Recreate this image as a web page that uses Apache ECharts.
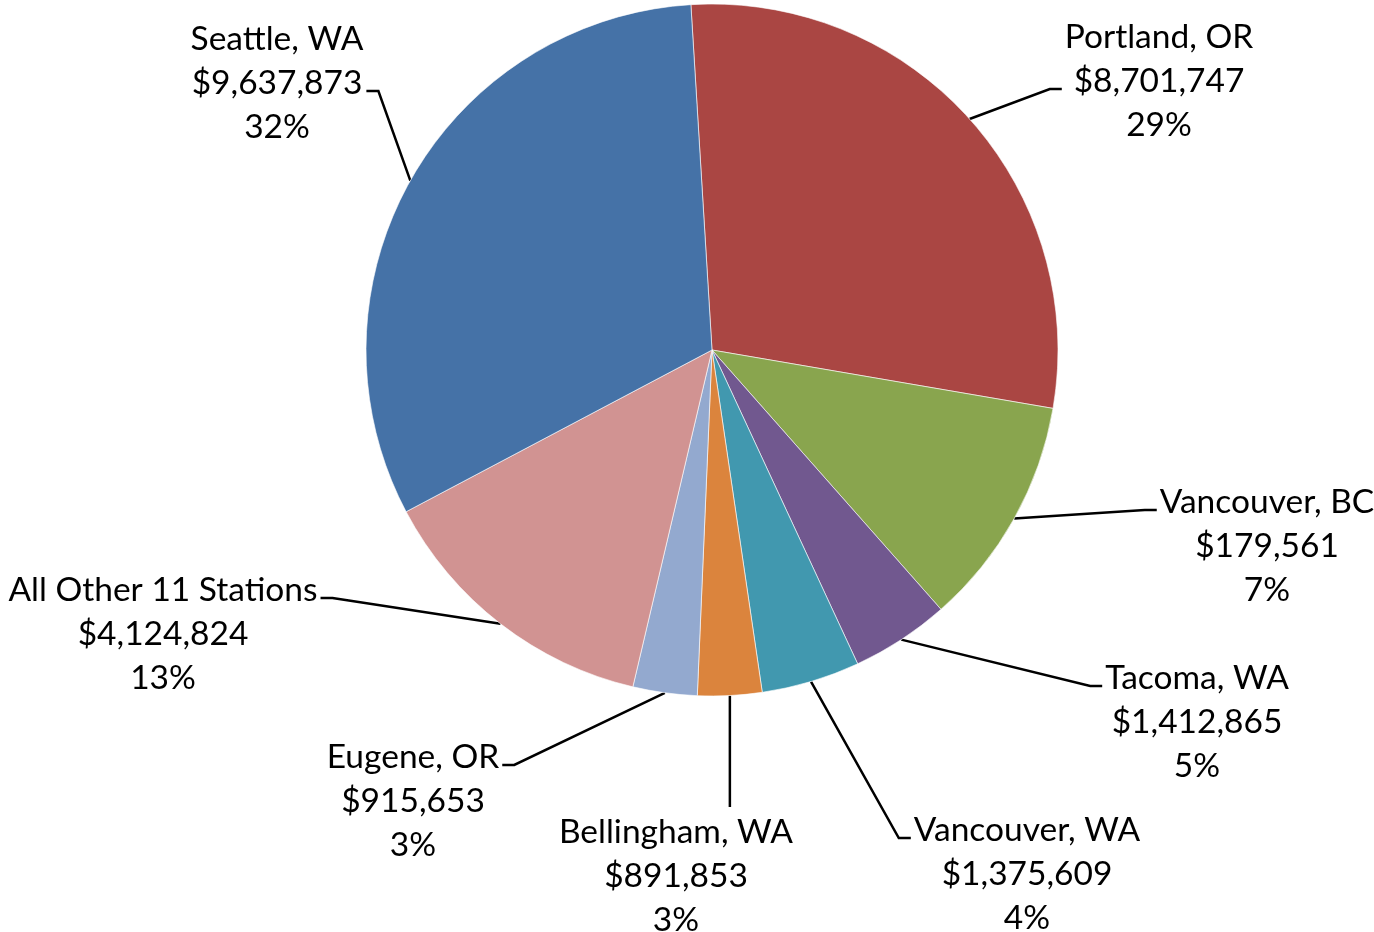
<!DOCTYPE html>
<html>
<head>
<meta charset="utf-8">
<title>Revenue by Station</title>
<script src="https://cdn.jsdelivr.net/npm/echarts@6/dist/echarts.min.js"></script>
<style>
    html, body { margin: 0; padding: 0; background: #ffffff; }
    #stationPie { width: 1374px; height: 932px; }
</style>
</head>
<body>
<div id="stationPie"></div>
<script>
// ======================
// DATOS (orden horario desde arriba)
// ======================
const stations = [
    "Portland, OR", "Vancouver, BC", "Tacoma, WA", "Vancouver, WA",
    "Bellingham, WA", "Eugene, OR", "All Other 11 Stations", "Seattle, WA"
];
// tamaño de cada porción (%)
const shares = [28.7, 10.8, 4.6, 4.6, 3.0, 3.0, 13.6, 31.8];
// textos tal como aparecen en las etiquetas
const amounts = [
    "$8,701,747", "$179,561", "$1,412,865", "$1,375,609",
    "$891,853", "$915,653", "$4,124,824", "$9,637,873"
];
const percents = ["29%", "7%", "5%", "4%", "3%", "3%", "13%", "32%"];

// ======================
// ESTILO
// ======================
const COLORS = [
    "#AA4643", "#89A54E", "#71588F", "#4198AF",
    "#DB843D", "#93A9CF", "#D19392", "#4572A7"
];
const PIE_CENTER = [712, 350];
const PIE_RADIUS = 346;
const LINE_H = 44;
// centro x de la etiqueta y centro y de su primera línea
const LABEL_POS = [
    [1159, 37], [1267, 502], [1197, 678], [1027, 830],
    [676, 832], [413, 757], [163, 590], [277, 39]
];

function initChart() {
    if (typeof echarts === "undefined") {
        setTimeout(initChart, 100);
        return;
    }
    const chart = echarts.init(document.getElementById("stationPie"));

    chart.setOption({
        backgroundColor: "#ffffff",
        animation: false,
        series: [{
            type: "pie",
            center: PIE_CENTER,
            radius: PIE_RADIUS,
            startAngle: 93.5,
            clockwise: true,
            avoidLabelOverlap: false,
            itemStyle: { borderColor: "#ffffff", borderWidth: 0.6 },
            label: {
                show: true,
                position: "outside",
                alignTo: "none",
                color: "#000000",
                fontFamily: "Lato, 'Open Sans', sans-serif",
                fontSize: 33.5,
                lineHeight: LINE_H,
                align: "center",
                formatter: p => stations[p.dataIndex] + "\n" + amounts[p.dataIndex] + "\n" + percents[p.dataIndex]
            },
            labelLine: {
                show: true,
                length: 20,
                length2: 12,
                smooth: false,
                lineStyle: { color: "#000000", width: 2.5 }
            },
            labelLayout: p => {
                const [lx, l1] = LABEL_POS[p.dataIndex];
                const w = p.labelRect.width;
                const top = l1 - LINE_H / 2;
                const start = p.labelLinePoints[0];
                const left = lx - w / 2;
                const right = lx + w / 2;
                let pts;
                if (start[0] > left && start[0] < right) {
                    // directo hacia arriba de la etiqueta
                    pts = [start, [start[0], (start[1] + top) / 2], [start[0], top - 3]];
                } else {
                    const ay = l1 < PIE_CENTER[1] ? l1 + LINE_H + 8 : l1 + 8;
                    const onRight = lx > start[0];
                    const ex = onRight ? left - 3 : right + 3;
                    const bx = onRight ? ex - 12 : ex + 12;
                    pts = [start, [bx, ay], [ex, ay]];
                }
                return {
                    x: lx,
                    y: top,
                    align: "center",
                    verticalAlign: "top",
                    labelLinePoints: pts
                };
            },
            data: stations.map((s, i) => ({
                name: s,
                value: shares[i],
                itemStyle: { color: COLORS[i] }
            }))
        }]
    });

    window.addEventListener("resize", () => chart.resize());
}

if (document.readyState === "loading") {
    document.addEventListener("DOMContentLoaded", initChart);
} else {
    initChart();
}
</script>
</body>
</html>
